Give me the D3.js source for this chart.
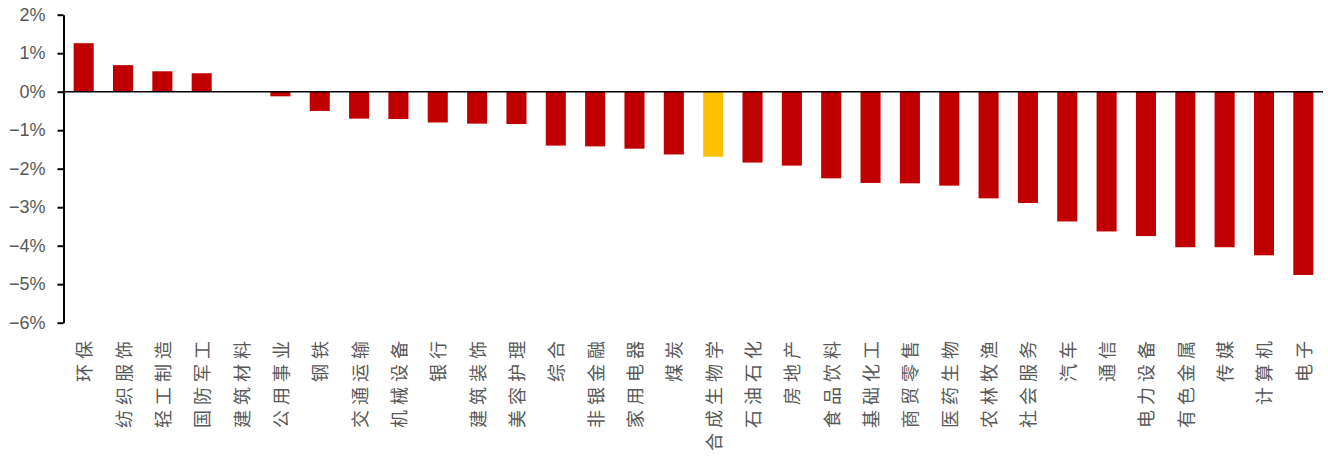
<!DOCTYPE html>
<html>
<head>
<meta charset="utf-8">
<script src="https://cdn.jsdelivr.net/npm/d3@7"></script>
<style>
    html, body { margin: 0; padding: 0; background: #fff; }
    svg { display: block; }
    .y-axis text { font-family: "Liberation Sans", Arial, sans-serif; font-size: 18px; fill: #595959; }
    .cat-label { font-family: "Noto Sans CJK SC", sans-serif; font-size: 18px; fill: #595959; letter-spacing: 5px; }
</style>
</head>
<body>
<svg id="chart" width="1328" height="458"></svg>
<script>
const categories = ['环保', '纺织服饰', '轻工制造', '国防军工', '建筑材料', '公用事业', '钢铁', '交通运输',
    '机械设备', '银行', '建筑装饰', '美容护理', '综合', '非银金融', '家用电器', '煤炭', '合成生物学',
    '石油石化', '房地产', '食品饮料', '基础化工', '商贸零售', '医药生物', '农林牧渔', '社会服务',
    '汽车', '通信', '电力设备', '有色金属', '传媒', '计算机', '电子']

// weekly change, %
const values = [1.26, 0.69, 0.53, 0.48, 0.0, -0.12, -0.50, -0.70,
    -0.71, -0.80, -0.83, -0.84, -1.40, -1.42, -1.48, -1.63, -1.69,
    -1.84, -1.92, -2.25, -2.37, -2.38, -2.44, -2.77, -2.89,
    -3.37, -3.63, -3.75, -4.04, -4.04, -4.25, -4.76]

const highlight = ['合成生物学']
const yTicks = [2, 1, 0, -1, -2, -3, -4, -5, -6]

const svg = d3.select('#chart')

const x = d3.scaleBand()
    .domain(categories)
    .range([64, 1323])
    .paddingInner(0.49)
    .paddingOuter(0.245)

const y = d3.scaleLinear()
    .domain([-6, 2])
    .range([322.7, 14.7])

// bars
svg.append('g')
    .selectAll('rect')
    .data(categories)
    .join('rect')
    .attr('x', d => x(d))
    .attr('width', x.bandwidth())
    .attr('y', (d, i) => y(Math.max(0, values[i])))
    .attr('height', (d, i) => Math.abs(y(values[i]) - y(0)))
    .attr('fill', d => highlight.includes(d) ? '#FFC000' : '#C00000')

// zero line
svg.append('line')
    .attr('x1', 63)
    .attr('x2', 1323)
    .attr('y1', y(0))
    .attr('y2', y(0))
    .attr('stroke', '#000')
    .attr('stroke-width', 1.5)

// y axis
const yAxis = svg.append('g')
    .attr('class', 'y-axis')
    .attr('transform', 'translate(63.5,0)')
    .call(d3.axisLeft(y)
        .tickValues(yTicks)
        .tickSize(6)
        .tickPadding(12)
        .tickSizeOuter(0)
        .tickFormat(d => (d < 0 ? '\u2212' + Math.abs(d) : d) + '%'))

yAxis.select('.domain').attr('stroke', '#000').attr('stroke-width', 2)
yAxis.selectAll('.tick line').attr('stroke', '#000').attr('stroke-width', 2)

// category labels, vertical
svg.append('g')
    .selectAll('text')
    .data(categories)
    .join('text')
    .attr('class', 'cat-label')
    .attr('text-anchor', 'end')
    .attr('dy', '0.36em')
    .attr('transform', d => `translate(${x(d) + x.bandwidth() / 2 + 1}, 336) rotate(-90)`)
    .text(d => d)
</script>
</body>
</html>
